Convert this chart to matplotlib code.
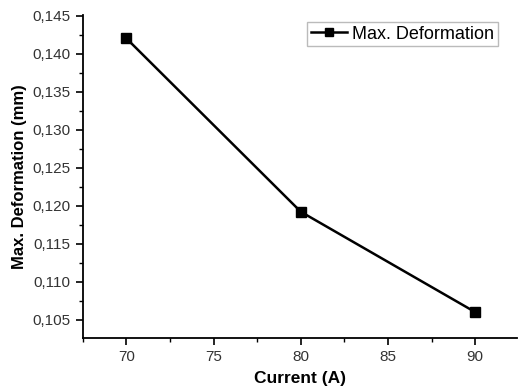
import numpy as np
import matplotlib.pyplot as plt
from matplotlib.ticker import MultipleLocator, FuncFormatter

plt.rcParams['font.family'] = ['Liberation Sans', 'DejaVu Sans']

### data #####
current = [70, 80, 90]
deformation = [0.1420, 0.1192, 0.1060]
x_ticks = [70, 75, 80, 85, 90]
y_ticks = [0.105, 0.110, 0.115, 0.120, 0.125, 0.130, 0.135, 0.140, 0.145]
#######

fig = plt.figure(figsize=(5.18, 3.92), dpi=100)
ax = fig.add_axes([0.160, 0.138, 0.838, 0.824])

ax.plot(current, deformation, color='black', lw=1.8, marker='s', ms=7,
        label='Max. Deformation')

ax.set_xlim(67.5, 92.4)
ax.set_ylim(0.1026, 0.1451)
ax.set_xticks(x_ticks)
ax.set_yticks(y_ticks)
ax.xaxis.set_minor_locator(MultipleLocator(2.5))
ax.yaxis.set_minor_locator(MultipleLocator(0.0025))
ax.yaxis.set_major_formatter(FuncFormatter(lambda v, p: f"{v:.3f}".replace('.', ',')))

for s in ['top', 'right']:
    ax.spines[s].set_visible(False)
for s in ['left', 'bottom']:
    ax.spines[s].set_linewidth(1.3)
ax.tick_params(which='major', direction='out', length=5, width=1.2, labelsize=11,
               colors='black', pad=4)
ax.tick_params(which='minor', direction='out', length=3, width=1.0)
ax.tick_params(axis='both', labelcolor='#333333')

ax.set_xlabel('Current (A)', fontsize=12.5, fontweight='bold', labelpad=5)
ax.set_ylabel('Max. Deformation (mm)', fontsize=12, fontweight='bold', labelpad=4)

leg = ax.legend(loc='upper right', bbox_to_anchor=(0.968, 0.995), fontsize=13,
                frameon=True, fancybox=False, edgecolor='#aaaaaa',
                handlelength=2.0, handletextpad=0.3, borderpad=0.2,
                borderaxespad=0.3, markerscale=0.8)
leg.get_frame().set_linewidth(1.0)

fig.savefig('out.png', dpi=100)
